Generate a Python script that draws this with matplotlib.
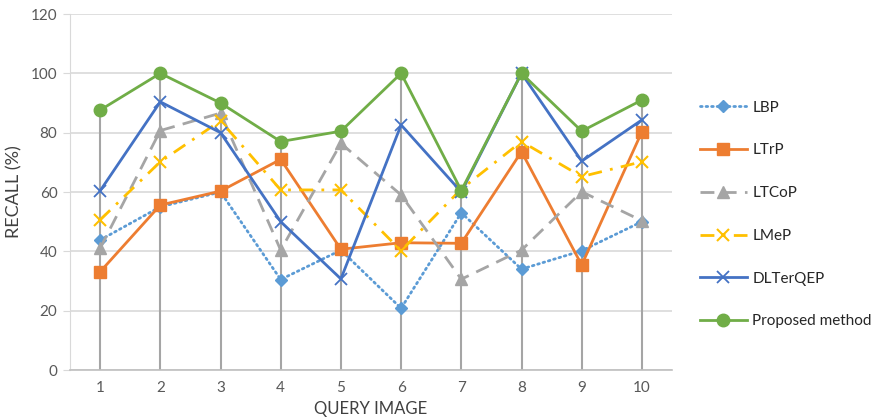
import numpy as np
import matplotlib.pyplot as plt

plt.rcParams["font.family"] = ["Lato", "DejaVu Sans"]

# Data
query = [1, 2, 3, 4, 5, 6, 7, 8, 9, 10]
lbp = [43.8, 55, 60, 30.5, 40.4, 20.8, 53, 34, 40.2, 50]
ltrp = [33.1, 55.6, 60.3, 71, 40.7, 42.9, 42.7, 73.6, 35.4, 80.3]
ltcop = [41, 80.7, 86.6, 40.4, 76.4, 59, 30.6, 40.4, 60.1, 50.3]
lmep = [50.6, 70.2, 84, 60.7, 60.7, 40.2, 61, 77, 65.2, 70.2]
dlterqep = [60.4, 90.4, 80, 50, 30.7, 82.6, 60, 100, 70.4, 84.3]
proposed = [87.6, 100, 90, 77, 80.5, 100, 60.5, 100, 80.5, 91]

fig = plt.figure(figsize=(8.84, 4.2), dpi=100)
ax = fig.add_axes([70 / 884, 50 / 420, 602 / 884, 356 / 420])

# drop lines down to the axis
top = np.max([lbp, ltrp, ltcop, lmep, dlterqep, proposed], axis=0)
ax.vlines(query, 0, top, color="#A5A5A5", linewidth=1.5, zorder=1.5)

lw = 2.0
ax.plot(query, lbp, color="#5B9BD5", linestyle=(0, (0.6, 1.4)), dash_capstyle="round",
        linewidth=lw, marker="D", markersize=6, label="LBP", zorder=3)
ax.plot(query, ltrp, color="#ED7D31", linestyle="-", linewidth=lw,
        marker="s", markersize=8, label="LTrP", zorder=3)
ax.plot(query, ltcop, color="#A5A5A5", linestyle=(0, (5, 3)), linewidth=lw,
        marker="^", markersize=8, label="LTCoP", zorder=3)
ax.plot(query, lmep, color="#FFC000", linestyle=(0, (5, 3, 1, 3)), linewidth=lw,
        marker="x", markersize=8, markeredgewidth=1.5, label="LMeP", zorder=3)
ax.plot(query, dlterqep, color="#4472C4", linestyle="-", linewidth=lw,
        marker="x", markersize=8, markeredgewidth=1.3, label="DLTerQEP", zorder=3)
ax.plot(query, proposed, color="#70AD47", linestyle="-", linewidth=lw,
        marker="o", markersize=9, label="Proposed method", zorder=3)

ax.set_xlim(0.5, 10.5)
ax.set_ylim(0, 120)
ax.set_xticks(query)
ax.set_yticks(range(0, 121, 20))
ax.yaxis.grid(True, color="#D9D9D9", linewidth=1.2)
ax.set_axisbelow(True)

for s in ["top", "right"]:
    ax.spines[s].set_visible(False)
ax.spines["left"].set_color("#D9D9D9")
ax.spines["bottom"].set_color("#BFBFBF")
ax.spines["bottom"].set_linewidth(1.2)
ax.tick_params(axis="y", length=5, color="#D9D9D9", labelsize=11, labelcolor="#595959", pad=4)
ax.tick_params(axis="x", length=0, labelsize=11, labelcolor="#595959", pad=8)

ax.set_xlabel("QUERY IMAGE", fontsize=12, color="#404040", labelpad=4)
ax.set_ylabel("RECALL (%)", fontsize=13, color="#404040", labelpad=6)

fig.legend(loc="upper left", bbox_to_anchor=(686 / 884, 1 - 87 / 420), frameon=False,
           fontsize=11, handlelength=3.1, handletextpad=0.35, labelspacing=1.88,
           labelcolor="#262626")

fig.savefig("out.png", dpi=100)
